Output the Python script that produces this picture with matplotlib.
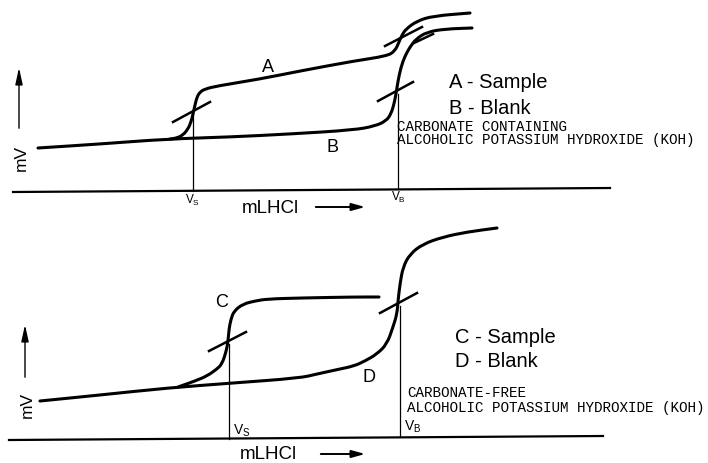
import matplotlib
matplotlib.use('Agg')
import matplotlib.pyplot as plt
from matplotlib.path import Path
from matplotlib.patches import PathPatch

# Schematic titration curves (pixel-like units)
# Top panel: carbonate containing KOH
a_x = [170, 177, 183, 188, 191, 193, 195, 197, 200, 205, 217, 260, 300, 354, 387, 395, 399, 402, 406, 417, 433, 470]
a_y = [140, 139, 136, 130, 123, 115, 106, 98, 93, 90, 87, 80, 72, 62, 57, 52, 43, 36, 30, 22, 17, 14]
b_x = [38, 100, 167, 230, 290, 354, 375, 386, 391, 394, 396, 398, 401, 405, 410, 416, 427, 445, 472]
b_y = [149, 145, 140, 138, 135, 131, 127, 122, 115, 105, 95, 82, 68, 57, 48, 40, 33, 30, 29]
# Bottom panel: carbonate-free KOH
c_x = [178, 195, 207, 217, 222, 226, 228, 229, 231, 234, 243, 255, 267, 300, 354, 379]
c_y = [388, 382, 377, 370, 365, 353, 343, 330, 320, 312, 305, 302, 300, 299, 298, 298]
d_x = [40, 100, 167, 233, 300, 317, 340, 354, 365, 377, 387, 393, 397, 398, 400, 403, 410, 423, 443, 467, 497]
d_y = [402, 396, 389, 384, 379, 375, 370, 367, 362, 355, 345, 328, 315, 302, 285, 268, 255, 245, 238, 233, 229]

# tangent construction lines
tangents = [((173, 210), (123, 103)), ((378, 413), (102, 83)), ((385, 422), (47, 28)),
            ((414, 433), (44, 35)), ((209, 246), (352, 333)), ((380, 417), (314, 294))]
# end point verticals (x, y_top, y_bottom)
v_lines = [(193, 115, 192), (398, 95, 189), (229, 345, 440), (400, 307, 437)]


def smooth_path(xs, ys):
    # read points used as quadratic bezier controls, so the pen line is smooth
    pts = list(zip(xs, ys))
    verts = [pts[0]]
    codes = [Path.MOVETO]
    mid = lambda p, q: ((p[0] + q[0]) / 2, (p[1] + q[1]) / 2)
    verts.append(mid(pts[0], pts[1]))
    codes.append(Path.LINETO)
    for i in range(1, len(pts) - 1):
        verts += [pts[i], mid(pts[i], pts[i + 1])]
        codes += [Path.CURVE3, Path.CURVE3]
    verts.append(pts[-1])
    codes.append(Path.LINETO)
    return Path(verts, codes)


fig = plt.figure(figsize=(7.08, 4.64), dpi=100)
ax = fig.add_axes([0, 0, 1, 1])
ax.set_xlim(0, 708)
ax.set_ylim(464, 0)
ax.axis('off')

k = 'black'
# baselines
ax.plot([13, 610], [193, 189], color=k, lw=1.6)
ax.plot([9, 603], [441, 437], color=k, lw=1.6)

for xs, ys in [(a_x, a_y), (b_x, b_y), (c_x, c_y), (d_x, d_y)]:
    ax.add_patch(PathPatch(smooth_path(xs, ys), fill=False, edgecolor=k, lw=2.2,
                           capstyle='round', joinstyle='round'))

for tx, ty in tangents:
    ax.plot(tx, ty, color=k, lw=1.8)

for vx, y0, y1 in v_lines:
    ax.plot([vx, vx], [y0, y1], color=k, lw=0.9)

# y arrows
arr = dict(arrowstyle='-|>,head_width=0.22,head_length=1.0', color=k, lw=1.0)
ax.annotate('', xy=(19, 66), xytext=(19, 132), arrowprops=arr)
ax.annotate('', xy=(25, 323), xytext=(25, 381), arrowprops=arr)
# x arrows
arr2 = dict(arrowstyle='-|>,head_width=0.22,head_length=0.8', color=k, lw=1.4)
ax.annotate('', xy=(368, 208), xytext=(313, 208), arrowprops=arr2)
ax.annotate('', xy=(368, 455), xytext=(318, 455), arrowprops=arr2)

sans = 'Liberation Sans'
mono = 'Liberation Mono'
ax.text(21, 158, 'mV', rotation=90, ha='center', va='center', fontsize=12.5, family=sans)
ax.text(27, 405, 'mV', rotation=90, ha='center', va='center', fontsize=12.5, family=sans)
ax.text(270, 209, 'mLHCl', ha='center', va='center', fontsize=13.5, family=sans)
ax.text(268, 455, 'mLHCl', ha='center', va='center', fontsize=13.5, family=sans)

ax.text(268, 68, 'A', ha='center', va='center', fontsize=13, family=sans)
ax.text(333, 148, 'B', ha='center', va='center', fontsize=13, family=sans)
ax.text(222, 303, 'C', ha='center', va='center', fontsize=13, family=sans)
ax.text(369, 378, 'D', ha='center', va='center', fontsize=13, family=sans)

ax.text(449, 82, 'A - Sample', ha='left', va='center', fontsize=14.5, family=sans)
ax.text(449, 109, 'B - Blank', ha='left', va='center', fontsize=14.5, family=sans)
ax.text(455, 338, 'C - Sample', ha='left', va='center', fontsize=14.5, family=sans)
ax.text(455, 362, 'D - Blank', ha='left', va='center', fontsize=14.5, family=sans)

ax.text(397, 127, 'CARBONATE CONTAINING', ha='left', va='center', fontsize=10.3, family=mono)
ax.text(397, 140, 'ALCOHOLIC POTASSIUM HYDROXIDE (KOH)', ha='left', va='center', fontsize=10.3, family=mono)
ax.text(407, 393, 'CARBONATE-FREE', ha='left', va='center', fontsize=10.3, family=mono)
ax.text(407, 408, 'ALCOHOLIC POTASSIUM HYDROXIDE (KOH)', ha='left', va='center', fontsize=10.3, family=mono)

ax.text(193, 200, r'V$_\mathregular{S}$', ha='center', va='center', fontsize=8.5, family=sans)
ax.text(398, 197, r'V$_\mathregular{B}$', ha='center', va='center', fontsize=8.5, family=sans)
ax.text(233, 431, r'V$_\mathregular{S}$', ha='left', va='center', fontsize=10, family=sans)
ax.text(404, 427, r'V$_\mathregular{B}$', ha='left', va='center', fontsize=10, family=sans)

fig.savefig('out.png', dpi=100)
